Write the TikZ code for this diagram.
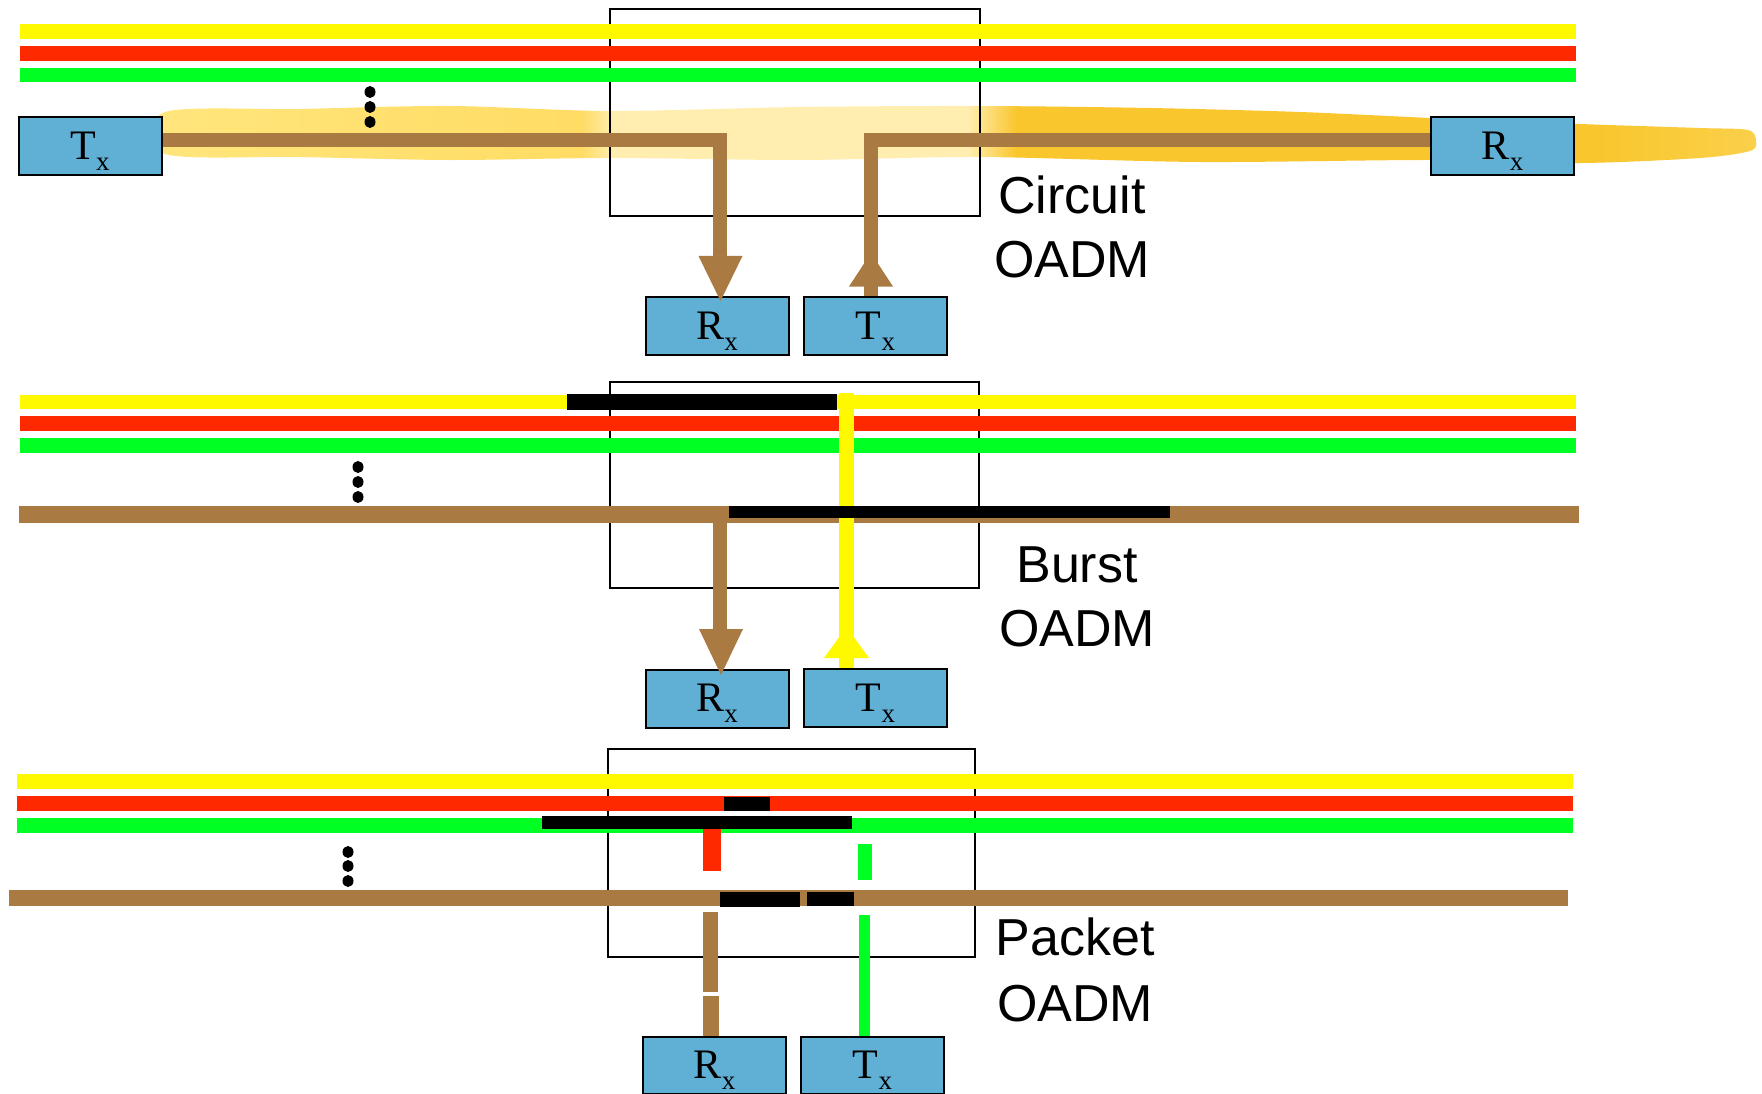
\documentclass[tikz,border=0pt]{standalone}
\usepackage{fontspec}
\setmainfont{Liberation Serif}
\newfontfamily\labelfont{Liberation Sans}
\definecolor{wlyellow}{RGB}{255,249,0}
\definecolor{wlred}{RGB}{255,41,0}
\definecolor{wlgreen}{RGB}{0,255,34}
\definecolor{wlbrown}{RGB}{169,123,66}
\definecolor{boxblue}{RGB}{96,175,213}
\definecolor{brA}{RGB}{255,230,125}
\definecolor{brB}{RGB}{255,220,100}
\definecolor{brC}{RGB}{255,238,175}
\definecolor{brD}{RGB}{249,198,45}
\definecolor{brE}{RGB}{250,208,75}
\pgfdeclarehorizontalshading{brushshade}{100bp}{color(0bp)=(brA); color(25bp)=(brA); color(38.5bp)=(brB); color(39.5bp)=(brC); color(50.5bp)=(brC); color(52bp)=(brD); color(70bp)=(brD); color(75bp)=(brE); color(100bp)=(brE)}
\newcommand\trxtext[1]{#1\raisebox{-11pt}{\fontsize{27}{27}\selectfont x}}
\begin{document}
\begin{tikzpicture}[x=1pt,y=-1pt,
  trx/.style={draw=black,line width=2pt,fill=boxblue,minimum width=143pt,minimum height=58pt,inner sep=0pt,text height=30pt,text depth=4pt,font=\fontsize{42}{42}\selectfont},
  oadmbox/.style={draw=black,line width=1.8pt},
  lbl/.style={font=\labelfont\fontsize{52}{52}\selectfont,anchor=base,inner sep=0pt},
  brownline/.style={draw=wlbrown,line width=14pt,line join=miter},
  dotmark/.style={fill=black}
]
\useasboundingbox (0,0) rectangle (1762,1094);

% brush highlight behind the circuit fibre
\shade[shading=brushshade] plot[smooth cycle,tension=0.5] coordinates {(165,112) (300,109) (450,106) (610,111) (800,107) (980,106) (1150,108) (1300,112) (1431,118) (1580,124) (1700,128) (1748,130) (1756,141) (1750,151) (1700,158) (1580,163) (1431,160) (1200,162) (980,157) (800,160) (610,158) (450,160) (300,157) (165,154)};

% OADM boxes
\draw[oadmbox] (610,9) rectangle (980,216);
\draw[oadmbox] (610,382) rectangle (979,588);
\draw[oadmbox] (608,749) rectangle (975,957);

% ---------- Circuit ----------
\draw[wlyellow,line width=14.5pt] (20,31.3) -- (1576,31.3);
\draw[wlred,line width=14.5pt] (20,53.3) -- (1576,53.3);
\draw[wlgreen,line width=14pt] (20,75) -- (1576,75);
\fill[dotmark] (370,92) ellipse [x radius=5.5pt,y radius=6pt];
\fill[dotmark] (370,107) ellipse [x radius=5.5pt,y radius=6pt];
\fill[dotmark] (370,122) ellipse [x radius=5.5pt,y radius=6pt];

\node[trx] (tx1) at (90,146.5) {\trxtext{T}};
\node[trx] (rx1) at (1502.5,146.5) {\trxtext{R}};
\node[trx] (rx1b) at (717,326) {\trxtext{R}};
\node[trx] (tx1b) at (875.5,326) {\trxtext{T}};

\draw[brownline] (tx1.east |- 0,140) -| (720,256);
\fill[wlbrown] (720.5,301) -- (698.5,256) -- (742.5,256) -- cycle;
\draw[brownline] (rx1.west |- 0,140) -| (tx1b.north -| 871,0);
\fill[wlbrown] (871,253) -- (849,286.5) -- (893,286.5) -- cycle;

\node[lbl] (lc1) at (1072,214) {Circuit};
\node[lbl] (lc2) at (1072,277) {OADM};

% ---------- Burst ----------
\draw[wlyellow,line width=14pt] (20,402) -- (1576,402);
\draw[wlred,line width=14.5pt] (20,423.5) -- (1576,423.5);
\draw[wlgreen,line width=14.5pt] (20,445.5) -- (1576,445.5);
\draw[wlbrown,line width=17pt] (19,514.5) -- (1579,514.5);
\draw[black,line width=16pt] (567,402) -- (837,402);
\fill[dotmark] (358,467) ellipse [x radius=5.5pt,y radius=6pt];
\fill[dotmark] (358,482) ellipse [x radius=5.5pt,y radius=6pt];
\fill[dotmark] (358,497) ellipse [x radius=5.5pt,y radius=6pt];

\node[trx] (rx2b) at (717,698.5) {\trxtext{R}};
\node[trx] (tx2b) at (875.5,698) {\trxtext{T}};

\draw[wlbrown,line width=14pt] (720,514) -- (720,630);
\fill[wlbrown] (721,675) -- (699,629) -- (743,629) -- cycle;
\draw[wlyellow,line width=15pt] (846.5,393) -- (tx2b.north -| 846.5,0);
\fill[wlyellow] (846.5,627) -- (824,658) -- (869,658) -- cycle;
\draw[black,line width=12pt] (729,512) -- (1170,512);

\node[lbl] (lb1) at (1077,582) {Burst};
\node[lbl] (lb2) at (1077,646) {OADM};

% ---------- Packet ----------
\draw[wlyellow,line width=15pt] (17,781.5) -- (1573,781.5);
\draw[wlred,line width=15pt] (17,803.5) -- (1573,803.5);
\draw[wlgreen,line width=15pt] (17,825.5) -- (1573,825.5);
\draw[wlbrown,line width=16pt] (9,898) -- (1568,898);
\draw[black,line width=14pt] (724,804) -- (770,804);
\draw[black,line width=13pt] (542,822.5) -- (852,822.5);
\draw[wlred,line width=18pt] (712,829) -- (712,871);
\draw[wlgreen,line width=14pt] (865,844) -- (865,880);
\draw[black,line width=15pt] (720,899.5) -- (800,899.5);
\draw[black,line width=14pt] (807,899) -- (854,899);
\fill[dotmark] (348,852) ellipse [x radius=5.5pt,y radius=6pt];
\fill[dotmark] (348,866) ellipse [x radius=5.5pt,y radius=6pt];
\fill[dotmark] (348,881) ellipse [x radius=5.5pt,y radius=6pt];

\node[trx,minimum height=57pt] (rx3b) at (714.5,1065.5) {\trxtext{R}};
\node[trx,minimum height=57pt] (tx3b) at (872.5,1065.5) {\trxtext{T}};

\draw[wlbrown,line width=15pt] (710.5,912) -- (710.5,992);
\draw[wlbrown,line width=16pt] (711,996) -- (rx3b.north -| 711,0);
\draw[wlgreen,line width=11pt] (tx3b.north -| 864.5,0) -- (864.5,915);

\node[lbl] (lp1) at (1075,955) {Packet};
\node[lbl] (lp2) at (1075,1021) {OADM};
\end{tikzpicture}
\end{document}
